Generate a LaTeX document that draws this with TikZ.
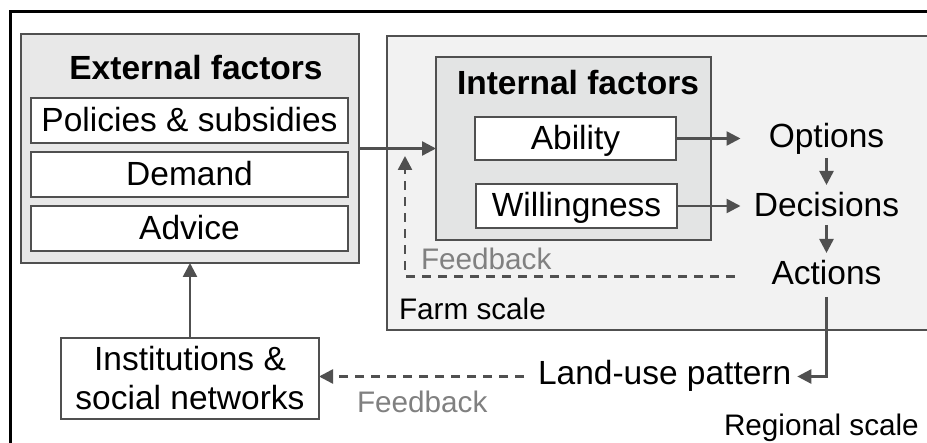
\documentclass[tikz,border=0pt]{standalone}
\usepackage{fontspec}
\setmainfont{Liberation Sans}
\usetikzlibrary{arrows.meta}
\definecolor{lc}{HTML}{505050}
\definecolor{extfill}{HTML}{E8E8E8}
\definecolor{farmfill}{HTML}{F2F2F2}
\definecolor{intfill}{HTML}{E3E4E4}
\definecolor{fbgray}{HTML}{808080}
\newcommand\bigf{\fontsize{33.5}{39}\selectfont}
\newcommand\smallf{\fontsize{29.7}{35}\selectfont}
\tikzset{
  plain/.style={inner sep=0pt, outer sep=0pt},
  panel/.style={plain, draw=lc, line width=1.8pt},
  wbox/.style={panel, fill=white, font=\bigf, text height=22pt, text depth=0pt},
  rtext/.style={plain, font=\bigf, text height=24pt, text depth=7pt},
  stext/.style={plain, font=\smallf, anchor=base west},
  arr/.style={draw=lc, line width=2.5pt, -{Triangle[length=14pt,width=14pt]}},
  dasharr/.style={arr, dash pattern=on 9pt off 7pt}
}
\begin{document}
\begin{tikzpicture}[x=1pt,y=-1pt]
\useasboundingbox (0,0) rectangle (927,443);
\clip (0,0) rectangle (927,443);
% outer frame (cropped)
\draw[black, line width=3pt] (10,460) -- (10,11.5) -- (940,11.5);
% farm scale panel
\node[panel, fill=farmfill, minimum width=560pt, minimum height=294pt, anchor=north west] (farm) at (387,36) {};
% external factors
\node[panel, fill=extfill, minimum width=338pt, minimum height=229pt] (ext) at (190,148.5) {};
\node[plain, font=\bigf\bfseries, anchor=base] (extt) at (196,80) {External factors};
\node[wbox, minimum width=317pt, minimum height=45pt] (pol) at (189.5,120.5) {Policies \& subsidies};
\node[wbox, minimum width=317pt, minimum height=45pt] (dem) at (189.5,174.5) {Demand};
\node[wbox, minimum width=317pt, minimum height=45pt] (adv) at (189.5,228.5) {Advice};
% internal factors
\node[panel, fill=intfill, minimum width=275pt, minimum height=183pt] (int) at (573.5,148.5) {};
\node[plain, font=\bigf\bfseries, anchor=base] (intt) at (578,95) {Internal factors};
\node[wbox, minimum width=201pt, minimum height=43pt] (ab) at (575.5,138.5) {Ability};
\node[wbox, minimum width=201pt, minimum height=44pt] (wil) at (576.5,206) {Willingness};
% right column
\node[rtext, minimum width=172pt, anchor=base] (opt) at (826.5,148) {Options};
\node[rtext, minimum width=172pt, anchor=base] (dec) at (826.5,217) {Decisions};
\node[rtext, minimum width=172pt, anchor=base] (act) at (826.5,285) {Actions};
% labels
\node[stext, text=fbgray] (fb1) at (421,270) {Feedback};
\node[stext] (fs) at (399,320) {Farm scale};
\node[panel, fill=white, minimum width=258pt, minimum height=81pt, font=\bigf, align=center] (inst) at (190,378.5) {Institutions \&\\social networks};
\node[rtext, anchor=base west] (lu) at (538,385) {Land-use pattern};
\node[stext, text=fbgray] (fb2) at (357,413) {Feedback};
\node[stext] (rs) at (724,436) {Regional scale};
\coordinate (fbtip) at (405,156);
% connectors
\draw[arr] (ext.east) -- (ext.east -| int.west);
\draw[arr] (ab.east) -- (ab.east -| opt.west);
\draw[arr] (wil.east) -- (wil.east -| dec.west);
\draw[arr, shorten <=3pt, shorten >=8pt] (opt.south) -- (dec.north);
\draw[arr, shorten <=1pt, shorten >=8pt] (dec.south) -- (act.north);
\draw[dasharr, shorten <=6pt] (act.west) -| (fbtip);
\draw[arr, shorten <=5pt, shorten >=6pt] (act.south) |- (lu.east);
\draw[dasharr, shorten <=14pt] (lu.west) -- (lu.west -| inst.east);
\draw[arr] (inst.north) -- (ext.south);
\end{tikzpicture}
\end{document}
